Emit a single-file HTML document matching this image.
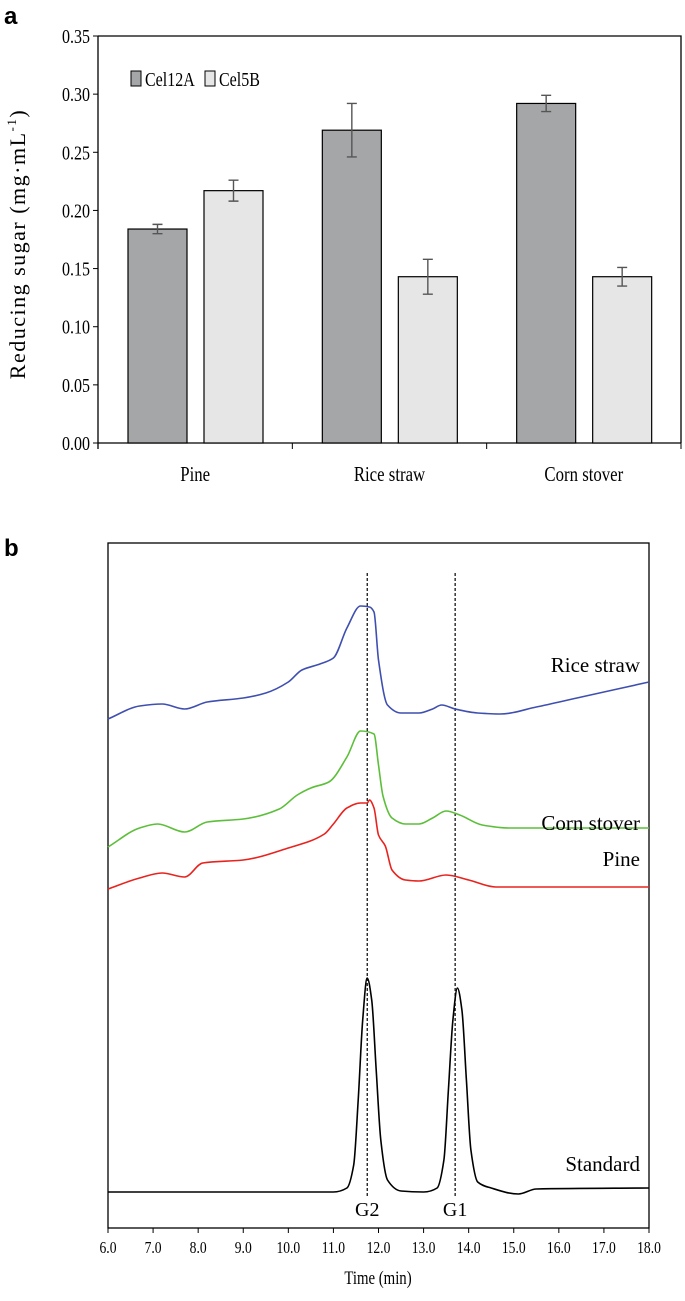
<!DOCTYPE html>
<html><head><meta charset="utf-8"><style>
html,body{margin:0;padding:0;background:#fff;}
svg{display:block;font-family:"Liberation Serif",serif;}
</style></head><body>
<svg id="fig" width="685" height="1301" viewBox="0 0 685 1301">
<text x="4" y="24" font-family="Liberation Sans,sans-serif" font-weight="bold" font-size="24">a</text>
<text x="4" y="556" font-family="Liberation Sans,sans-serif" font-weight="bold" font-size="24">b</text>
<g id="chartA"></g>
<g id="chartB"></g>
</svg>
<script>
const categories=["Pine","Rice straw","Corn stover"];
const seriesNames=["Cel12A","Cel5B"];
const cel12a=[0.184,0.269,0.292];
const cel12aErr=[0.004,0.023,0.007];
const cel5b=[0.217,0.143,0.143];
const cel5bErr=[0.009,0.015,0.008];
const yTicks=["0.00","0.05","0.10","0.15","0.20","0.25","0.30","0.35"];

const ns="http://www.w3.org/2000/svg";
function mk(parent,tag,attrs,text){const e=document.createElementNS(ns,tag);for(const k in attrs)e.setAttribute(k,attrs[k]);if(text!==undefined)e.textContent=text;parent.appendChild(e);return e;}
function sx(x,s){return `translate(${x},0) scale(${s},1) translate(${-x},0)`;}

// Chart A
const A=document.getElementById('chartA');
const aL=98,aR=681,aT=36,aB=443;
const ya=v=>aB-(v/0.35)*(aB-aT);
const catW=(aR-aL)/3;
let e=mk(A,'path',{d:`M${aL},${aT}H${aR}V${aB}M${aL},${aT}V${aB+6}`,fill:'none',stroke:'#000','stroke-width':1.3});

e=mk(A,'line',{x1:aL,x2:aR,y1:aB,y2:aB,stroke:'#000','stroke-width':1.3});

yTicks.forEach(t=>{const v=parseFloat(t);const y=ya(v);
 let l=mk(A,'line',{x1:aL-5,x2:aL,y1:y,y2:y,stroke:'#000'});
 
 let tx=mk(A,'text',{x:aL-8,y:y+7,'text-anchor':'end','font-size':20,transform:sx(aL-8,0.8)},t);
 
});
categories.forEach((c,i)=>{
 const x0=aL+catW*i;
 let l=mk(A,'line',{x1:x0+catW,x2:x0+catW,y1:aB,y2:aB+6,stroke:'#000'});
 
 const cx=x0+catW/2;
 let tx=mk(A,'text',{x:cx,y:481,'text-anchor':'middle','font-size':21,transform:sx(cx,0.8)},c);
 
 [[cel12a,cel12aErr,'#a5a6a8',30],[cel5b,cel5bErr,'#e6e6e6',106]].forEach((s,j)=>{
  const v=s[0][i],er=s[1][i];const bx=x0+s[3];const y=ya(v);
  let r=mk(A,'rect',{x:bx,y:y,width:59,height:aB-y,fill:s[2],stroke:'#000','stroke-width':1.2});
  
  
  const mx=bx+29.5;
  let p=mk(A,'path',{d:`M${mx},${ya(v+er)}V${ya(v-er)}M${mx-5},${ya(v+er)}H${mx+5}M${mx-5},${ya(v-er)}H${mx+5}`,stroke:'#555','stroke-width':1.4,fill:'none'});
  
 });
});
[['#a5a6a8',131,'Cel12A',145],['#e6e6e6',205,'Cel5B',219]].forEach((L,i)=>{
 let r=mk(A,'rect',{x:L[1],y:71,width:10,height:15,fill:L[0],stroke:'#000','stroke-width':1});
 
 let t=mk(A,'text',{x:L[3],y:86,'font-size':20,transform:sx(L[3],0.8)},L[2]);
 
});
e=mk(A,'text',{x:0,y:0,'font-size':22,'text-anchor':'middle','letter-spacing':'1.5',transform:'translate(25,244) rotate(-90)'},'Reducing sugar (mg·mL');

mk(e,'tspan',{'font-size':13,dy:-9},'-1');
mk(e,'tspan',{dy:9},')');

// Chart B
const riceT=[6.0,6.7,7.2,7.7,8.2,9.0,9.5,10.0,10.3,10.7,11.0,11.3,11.6,11.8,11.9,12.0,12.2,12.5,12.9,13.2,13.4,13.7,14.2,14.7,15.5,16.5,18.0];
const riceY=[719,706,704,709,702,698,693,682,670,664,658,628,606,607,612,660,705,713,713,709,705,709,713,714,707,697,682];
const cornT=[6.0,6.7,7.1,7.7,8.2,9.0,9.8,10.2,10.5,10.9,11.3,11.6,11.9,12.0,12.1,12.3,12.6,12.9,13.2,13.5,13.8,14.3,14.9,18.0];
const cornY=[847,828,824,832,822,819,809,795,788,782,757,731,734,765,796,818,824,824,818,811,815,825,828,828];
const pineT=[6.0,6.7,7.2,7.7,8.1,9.0,10.0,10.8,11.0,11.3,11.6,11.75,11.8,11.9,12.0,12.15,12.3,12.6,12.9,13.5,14.0,14.6,18.0];
const pineY=[889,878,873,877,863,860,848,834,824,808,803,803,800,808,835,846,870,880,881,875,880,887,887];
const stdT=[6.0,11.0,11.3,11.45,11.55,11.65,11.75,11.85,11.95,12.05,12.2,12.5,13.0,13.3,13.45,13.55,13.65,13.75,13.85,13.95,14.05,14.2,14.5,15.1,15.5,18.0];
const stdY=[1192,1192,1188,1165,1100,1020,978,1000,1070,1140,1180,1191,1192,1188,1160,1090,1020,988,1010,1080,1150,1182,1188,1194,1189,1188];
const xTicks=["6.0","7.0","8.0","9.0","10.0","11.0","12.0","13.0","14.0","15.0","16.0","17.0","18.0"];
const markerT=[11.75,13.7];
const markerLabels=["G2","G1"];

const B=document.getElementById('chartB');
const bL=108,bR=649,bT=543,bB=1228;
const xb=t=>bL+(t-6)/12*(bR-bL);
e=mk(B,'rect',{x:bL,y:bT,width:bR-bL,height:bB-bT,fill:'none',stroke:'#000','stroke-width':1.3});

xTicks.forEach(t=>{const x=xb(parseFloat(t));
 let l=mk(B,'line',{x1:x,x2:x,y1:bB,y2:bB+5,stroke:'#000'});
 
 let tx=mk(B,'text',{x:x,y:1253,'text-anchor':'middle','font-size':17,transform:sx(x,0.8)},t);
 
});
e=mk(B,'text',{x:378,y:1284,'text-anchor':'middle','font-size':19,transform:sx(378,0.78)},'Time (min)');

markerT.forEach((t,i)=>{const x=xb(t);
 let l=mk(B,'line',{x1:x,x2:x,y1:573,y2:1196,stroke:'#000','stroke-width':1.2,'stroke-dasharray':'3,2'});
 
 let tx=mk(B,'text',{x:x,y:1216,'text-anchor':'middle','font-size':20},markerLabels[i]);
 
});
function monotone(pts){
 const n=pts.length,dx=[],s=[],m=[];
 for(let i=0;i<n-1;i++){dx[i]=pts[i+1][0]-pts[i][0];s[i]=(pts[i+1][1]-pts[i][1])/dx[i];}
 m[0]=s[0];m[n-1]=s[n-2];
 for(let i=1;i<n-1;i++){if(s[i-1]*s[i]<=0)m[i]=0;else{m[i]=3*(dx[i-1]+dx[i])/((2*dx[i]+dx[i-1])/s[i-1]+(dx[i]+2*dx[i-1])/s[i]);}}
 let d=`M${pts[0][0].toFixed(1)},${pts[0][1]}`;
 for(let i=0;i<n-1;i++){const h=dx[i]/3;
  d+=`C${(pts[i][0]+h).toFixed(1)},${(pts[i][1]+m[i]*h).toFixed(1)} ${(pts[i+1][0]-h).toFixed(1)},${(pts[i+1][1]-m[i+1]*h).toFixed(1)} ${pts[i+1][0].toFixed(1)},${pts[i+1][1]}`;}
 return d;}
[[riceT,riceY,'#3f4fb0','rice-straw-trace'],[cornT,cornY,'#5cbf3a','corn-stover-trace'],[pineT,pineY,'#e8231e','pine-trace'],[stdT,stdY,'#000','standard-trace']].forEach(s=>{
 const pts=s[0].map((t,i)=>[xb(t),s[1][i]]);
 let p=mk(B,'path',{d:monotone(pts),fill:'none',stroke:s[2],'stroke-width':1.6});
 
});
[['Rice straw',672],['Corn stover',830],['Pine',866],['Standard',1171]].forEach(L=>{
 let t=mk(B,'text',{x:640,y:L[1],'text-anchor':'end','font-size':21},L[0]);
 
});
</script>
</body></html>
